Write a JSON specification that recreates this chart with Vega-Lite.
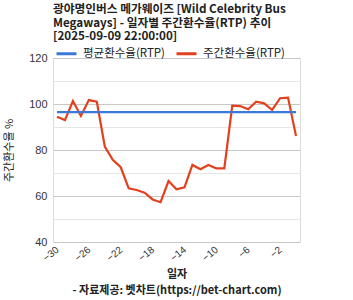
{
  "$schema": "https://vega.github.io/schema/vega-lite/v6.json",
  "width": 247,
  "height": 184,
  "autosize": {"type": "none"},
  "padding": {"left": 53, "top": 58, "right": 53, "bottom": 58},
  "background": "white",
  "title": {
    "text": ["광야명인버스 메가웨이즈 [Wild Celebrity Bus", "Megaways] - 일자별 주간환수율(RTP) 추이", "[2025-09-09 22:00:00]"],
    "anchor": "start",
    "frame": "group",
    "font": "Noto Sans CJK KR",
    "fontSize": 11.7,
    "fontWeight": "bold",
    "color": "#222",
    "lineHeight": 13.5,
    "offset": -1
  },
  "data": {
    "values": [
      {"day": -30, "rtp": 94.5, "series": "주간환수율(RTP)"},
      {"day": -29, "rtp": 93.0, "series": "주간환수율(RTP)"},
      {"day": -28, "rtp": 101.3, "series": "주간환수율(RTP)"},
      {"day": -27, "rtp": 94.8, "series": "주간환수율(RTP)"},
      {"day": -26, "rtp": 101.7, "series": "주간환수율(RTP)"},
      {"day": -25, "rtp": 101.0, "series": "주간환수율(RTP)"},
      {"day": -24, "rtp": 81.5, "series": "주간환수율(RTP)"},
      {"day": -23, "rtp": 75.7, "series": "주간환수율(RTP)"},
      {"day": -22, "rtp": 72.5, "series": "주간환수율(RTP)"},
      {"day": -21, "rtp": 63.3, "series": "주간환수율(RTP)"},
      {"day": -20, "rtp": 62.6, "series": "주간환수율(RTP)"},
      {"day": -19, "rtp": 61.4, "series": "주간환수율(RTP)"},
      {"day": -18, "rtp": 58.5, "series": "주간환수율(RTP)"},
      {"day": -17, "rtp": 57.3, "series": "주간환수율(RTP)"},
      {"day": -16, "rtp": 66.5, "series": "주간환수율(RTP)"},
      {"day": -15, "rtp": 62.9, "series": "주간환수율(RTP)"},
      {"day": -14, "rtp": 63.8, "series": "주간환수율(RTP)"},
      {"day": -13, "rtp": 73.5, "series": "주간환수율(RTP)"},
      {"day": -12, "rtp": 71.6, "series": "주간환수율(RTP)"},
      {"day": -11, "rtp": 73.5, "series": "주간환수율(RTP)"},
      {"day": -10, "rtp": 72.0, "series": "주간환수율(RTP)"},
      {"day": -9, "rtp": 72.0, "series": "주간환수율(RTP)"},
      {"day": -8, "rtp": 99.3, "series": "주간환수율(RTP)"},
      {"day": -7, "rtp": 99.1, "series": "주간환수율(RTP)"},
      {"day": -6, "rtp": 97.7, "series": "주간환수율(RTP)"},
      {"day": -5, "rtp": 101.0, "series": "주간환수율(RTP)"},
      {"day": -4, "rtp": 100.3, "series": "주간환수율(RTP)"},
      {"day": -3, "rtp": 97.4, "series": "주간환수율(RTP)"},
      {"day": -2, "rtp": 102.5, "series": "주간환수율(RTP)"},
      {"day": -1, "rtp": 102.8, "series": "주간환수율(RTP)"},
      {"day": 0, "rtp": 86.1, "series": "주간환수율(RTP)"},
      {"day": -30, "rtp": 96.5, "series": "평균환수율(RTP)"},
      {"day": 0, "rtp": 96.5, "series": "평균환수율(RTP)"}
    ]
  },
  "mark": {"type": "line", "strokeWidth": 2.2},
  "encoding": {
    "x": {
      "field": "day",
      "type": "quantitative",
      "scale": {"domain": [-30.5, 0.5], "nice": false, "zero": false},
      "axis": {
        "values": [-30, -26, -22, -18, -14, -10, -6, -2],
        "grid": false,
        "domain": false,
        "ticks": false,
        "labelAngle": -40,
        "labelAlign": "right",
        "labelBaseline": "middle",
        "labelPadding": 6,
        "labelFont": "Liberation Sans",
        "labelFontSize": 10,
        "labelColor": "#333",
        "title": ["일자", "- 자료제공: 벳차트(https://bet-chart.com)"],
        "titleFont": "Noto Sans CJK KR",
        "titleFontSize": 11,
        "titleFontWeight": "bold",
        "titleColor": "#222",
        "titleLineHeight": 16,
        "titlePadding": 6
      }
    },
    "y": {
      "field": "rtp",
      "type": "quantitative",
      "scale": {"domain": [40, 120], "nice": false, "zero": false},
      "axis": {
        "values": [40, 50, 60, 70, 80, 90, 100, 110, 120],
        "labelExpr": "datum.value % 20 === 0 ? datum.label : ''",
        "gridColor": {"condition": {"test": "datum.value % 20 === 0", "value": "#c8c8c8"}, "value": "#e6e6e6"},
        "domain": false,
        "ticks": false,
        "labelPadding": 6,
        "labelFont": "Liberation Sans",
        "labelFontSize": 11,
        "labelColor": "#333",
        "title": "주간환수율 %",
        "titleFont": "Noto Sans CJK KR",
        "titleFontSize": 11,
        "titleFontWeight": "normal",
        "titleColor": "#222",
        "titlePadding": 14
      }
    },
    "color": {
      "field": "series",
      "type": "nominal",
      "scale": {"domain": ["평균환수율(RTP)", "주간환수율(RTP)"], "range": ["#3c78d8", "#e3401e"]},
      "legend": {
        "orient": "none",
        "legendX": 2,
        "legendY": -16,
        "direction": "horizontal",
        "title": null,
        "symbolType": "stroke",
        "symbolStrokeWidth": 3,
        "symbolSize": 400,
        "labelFont": "Noto Sans CJK KR",
        "labelFontSize": 11.5,
        "labelColor": "#222",
        "labelOffset": 5,
        "columnPadding": 5
      }
    }
  }
}
